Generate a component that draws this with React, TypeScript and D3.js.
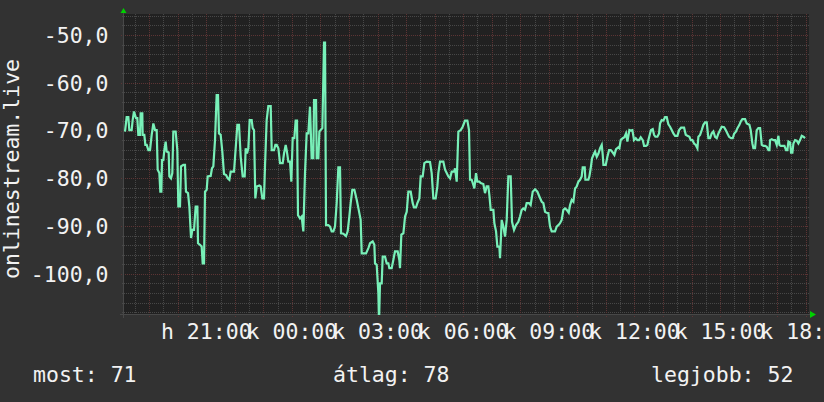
import React from 'react';
import * as d3 from 'd3';

// Signal level readings: [minutes after start (Mon 18:07), dBm]
const signal: [number, number][] = [
  [2.1,-70.2],[5.6,-67.2],[9.1,-67.2],[11.2,-69.9],[16.1,-69.9],[18.2,-67.8],[21.0,-66.0],[25.2,-67.4],[28.0,-67.4],[30.1,-70.9],
  [33.6,-70.9],[35.0,-66.4],[38.5,-66.4],[39.2,-70.9],[42.7,-70.9],[44.9,-73.0],[47.7,-73.0],[51.2,-74.1],[54.7,-74.1],[58.2,-70.9],
  [61.7,-68.5],[65.2,-69.9],[68.7,-69.9],[70.8,-78.2],[74.3,-78.9],[76.4,-82.8],[78.5,-82.8],[79.9,-76.2],[82.7,-76.2],[84.8,-74.1],
  [87.6,-72.3],[89.7,-74.4],[93.9,-74.6],[95.3,-79.6],[98.8,-80.0],[101.6,-78.9],[103.7,-70.2],[108.6,-70.2],[112.1,-74.1],[114.2,-85.9],
  [117.7,-85.9],[119.8,-77.5],[124.7,-77.2],[128.2,-77.2],[130.3,-82.8],[134.6,-83.1],[137.4,-85.9],[140.9,-92.5],[143.7,-90.8],[147.2,-90.8],
  [150.7,-85.9],[154.2,-85.9],[155.6,-93.6],[159.8,-93.9],[163.3,-94.3],[165.4,-97.8],[168.2,-97.8],[170.3,-82.8],[173.8,-82.4],[175.9,-79.6],
  [182.2,-79.5],[185.0,-77.9],[187.8,-77.5],[191.3,-72.0],[194.8,-62.6],[197.6,-62.6],[199.7,-70.6],[203.2,-70.9],[206.7,-74.4],[210.2,-79.1],
  [214.5,-79.3],[218.0,-80.0],[221.5,-80.3],[224.3,-78.6],[231.3,-78.6],[235.5,-72.7],[238.3,-68.8],[241.8,-68.8],[245.3,-75.5],[249.5,-79.6],
  [253.7,-79.6],[255.8,-73.7],[258.6,-74.8],[261.4,-73.7],[264.2,-67.8],[268.4,-67.8],[270.5,-69.5],[273.3,-69.9],[276.1,-84.2],[279.0,-81.7],
  [284.5,-81.5],[287.3,-81.7],[290.8,-84.2],[294.3,-84.2],[296.4,-77.5],[299.9,-67.8],[303.4,-64.9],[308.4,-64.9],[310.5,-74.1],[315.4,-74.1],
  [318.2,-73.0],[321.0,-73.0],[324.5,-73.7],[328.0,-76.8],[333.6,-76.8],[336.4,-74.8],[339.9,-73.0],[342.0,-74.1],[345.5,-76.5],[349.0,-76.5],
  [351.8,-80.7],[354.6,-71.6],[358.1,-71.6],[360.9,-67.9],[363.7,-67.9],[365.8,-87.7],[370.0,-88.4],[373.5,-88.0],[377.0,-91.1],[380.5,-78.9],
  [384.0,-70.6],[387.5,-70.6],[391.0,-65.0],[394.5,-75.8],[398.0,-75.8],[399.5,-63.6],[403.7,-63.6],[405.1,-75.8],[408.6,-75.8],[410.7,-70.2],
  [413.5,-69.9],[417.0,-69.5],[420.5,-51.6],[422.6,-51.6],[424.7,-89.8],[429.6,-89.8],[433.1,-90.1],[436.6,-91.1],[440.1,-91.1],[443.6,-90.1],
  [447.1,-85.2],[450.6,-77.7],[454.1,-77.7],[456.2,-91.5],[461.1,-91.6],[466.7,-92.1],[470.2,-91.1],[473.7,-88.0],[476.5,-85.2],[480.0,-82.4],
  [484.3,-82.4],[489.2,-84.5],[493.4,-86.6],[497.5,-88.7],[499.7,-95.7],[504.6,-95.7],[508.8,-95.7],[513.7,-94.6],[517.2,-93.6],[522.8,-93.2],
  [526.3,-93.9],[527.7,-97.8],[531.2,-98.1],[534.7,-104.0],[536.1,-110.0],[538.2,-102.0],[541.7,-102.0],[543.8,-96.4],[548.7,-96.4],[552.2,-97.8],
  [555.7,-97.8],[557.8,-98.8],[562.7,-98.8],[566.2,-97.1],[569.7,-95.3],[575.3,-95.3],[578.8,-97.1],[580.2,-98.8],[583.0,-91.8],[587.3,-91.5],
  [590.8,-88.0],[594.3,-87.0],[597.8,-82.8],[602.7,-82.8],[606.9,-85.2],[609.7,-86.1],[613.9,-86.1],[616.7,-85.2],[620.9,-84.2],[623.7,-79.6],
  [627.9,-79.6],[631.4,-76.8],[636.3,-76.5],[643.3,-76.6],[646.8,-78.9],[650.3,-84.2],[655.2,-84.2],[658.7,-81.7],[660.8,-78.9],[664.3,-76.5],
  [671.3,-76.5],[674.9,-78.2],[678.4,-78.9],[681.9,-79.6],[685.4,-80.0],[688.9,-78.6],[693.8,-78.6],[695.9,-77.9],[699.4,-80.7],[702.9,-70.2],
  [707.8,-69.9],[712.0,-69.2],[716.9,-67.9],[721.8,-67.9],[725.3,-69.9],[727.4,-80.3],[730.9,-80.3],[734.4,-81.4],[736.5,-82.1],[740.0,-78.9],
  [742.8,-80.7],[747.0,-80.7],[749.8,-81.0],[755.4,-81.2],[758.9,-83.1],[762.4,-81.7],[765.9,-81.7],[768.1,-83.5],[770.9,-86.6],[776.5,-86.6],
  [778.6,-89.4],[782.1,-91.1],[784.9,-94.3],[789.1,-94.3],[790.5,-96.7],[794.0,-88.7],[797.5,-90.1],[801.0,-92.2],[804.5,-88.7],[808.0,-79.6],
  [812.9,-79.6],[815.7,-89.1],[819.9,-90.8],[824.1,-89.8],[829.0,-89.1],[832.5,-88.0],[836.0,-86.6],[839.5,-86.3],[843.0,-86.6],[846.5,-85.2],
  [851.4,-85.2],[854.9,-85.6],[859.2,-82.8],[864.1,-82.3],[869.0,-82.8],[873.2,-83.8],[878.1,-84.9],[881.6,-85.2],[885.1,-87.0],[888.6,-87.2],
  [892.1,-87.3],[895.6,-90.1],[899.1,-91.1],[906.1,-91.1],[909.6,-90.1],[913.1,-89.8],[916.6,-89.4],[920.1,-88.7],[923.6,-86.6],[927.1,-86.3],
  [930.6,-86.6],[934.9,-87.2],[937.7,-85.6],[941.2,-84.5],[944.7,-84.9],[948.2,-82.1],[951.7,-81.7],[955.2,-80.7],[958.7,-80.3],[962.2,-79.6],
  [964.3,-77.7],[968.5,-77.7],[969.9,-80.3],[976.2,-80.3],[978.3,-79.6],[981.1,-77.9],[983.9,-75.8],[988.2,-74.8],[990.3,-74.4],[993.8,-75.5],
  [997.3,-74.8],[1000.8,-73.7],[1004.3,-73.0],[1006.4,-75.1],[1007.8,-77.2],[1012.7,-77.2],[1016.2,-75.5],[1019.7,-74.1],[1023.2,-74.1],[1027.4,-74.6],
  [1030.9,-75.1],[1034.4,-73.9],[1039.3,-73.5],[1041.4,-73.7],[1044.2,-72.0],[1048.4,-71.6],[1051.9,-71.4],[1055.4,-70.6],[1058.2,-72.3],[1062.4,-69.9],
  [1065.2,-70.0],[1068.7,-69.9],[1072.2,-72.0],[1075.8,-71.6],[1079.3,-72.0],[1082.8,-72.0],[1086.3,-71.4],[1090.5,-72.0],[1093.3,-73.2],[1097.5,-73.2],
  [1100.3,-73.0],[1102.4,-72.0],[1105.9,-70.6],[1108.0,-69.9],[1111.5,-69.7],[1114.3,-70.9],[1117.1,-71.3],[1121.3,-71.3],[1124.8,-70.6],[1126.9,-68.5],
  [1130.4,-67.8],[1133.9,-67.9],[1137.4,-67.2],[1140.9,-67.2],[1144.4,-68.7],[1147.9,-69.2],[1151.4,-69.9],[1154.9,-70.6],[1158.5,-71.1],[1163.4,-71.1],
  [1166.9,-69.9],[1171.1,-69.4],[1177.4,-69.4],[1180.9,-70.9],[1184.4,-71.1],[1188.6,-71.3],[1191.4,-72.0],[1194.9,-72.0],[1198.4,-72.7],[1201.9,-73.0],
  [1205.4,-73.7],[1207.5,-71.3],[1211.0,-70.9],[1214.5,-69.9],[1218.0,-68.8],[1221.5,-68.3],[1225.0,-68.3],[1228.5,-71.6],[1232.0,-71.6],[1235.5,-70.6],
  [1239.0,-70.2],[1242.5,-71.3],[1246.1,-71.6],[1249.6,-70.6],[1253.1,-69.9],[1256.6,-69.2],[1261.5,-69.3],[1265.0,-69.9],[1268.5,-70.6],[1272.0,-71.3],
  [1276.2,-71.6],[1279.7,-71.6],[1282.5,-70.7],[1286.7,-70.2],[1289.5,-69.5],[1293.7,-68.8],[1296.5,-68.1],[1300.0,-67.6],[1305.6,-67.6],[1309.1,-68.5],
  [1314.7,-68.8],[1317.5,-69.9],[1321.0,-72.7],[1323.1,-73.7],[1326.6,-73.7],[1330.1,-69.9],[1333.6,-69.5],[1337.2,-69.5],[1340.7,-73.0],[1344.2,-73.2],
  [1347.7,-73.2],[1351.2,-73.4],[1354.7,-74.1],[1356.8,-74.1],[1358.2,-72.0],[1361.7,-71.8],[1365.2,-72.0],[1368.7,-72.0],[1372.2,-73.0],[1375.7,-71.1],
  [1377.8,-73.0],[1380.6,-73.2],[1384.8,-73.2],[1388.3,-73.2],[1391.8,-74.1],[1394.6,-74.1],[1396.7,-72.3],[1400.2,-72.5],[1402.3,-74.6],[1405.1,-74.6],
  [1407.2,-72.7],[1410.7,-72.0],[1414.2,-72.1],[1417.7,-72.7],[1421.2,-72.0],[1424.7,-71.1],[1428.2,-71.3],[1431.7,-71.6],
];

const yTickValues = [-100, -90, -80, -70, -60, -50];
const yDomain: [number, number] = [-108.4, -45.6];
const huDays = ['v', 'h', 'k', 'sze', 'cs', 'p', 'szo'];
const yAxisTitle = 'onlinestream.live';
const legendItems = ['most: 71', 'átlag: 78', 'legjobb: 52'];
const legendX = [33, 333, 651];

const W = 824;
const H = 402;
const M = { left: 124, right: 809, top: 14, bottom: 314 };
const FONT = '"DejaVu Sans Mono", monospace';
const FS = 21.5;

export default function App() {
  const start = new Date(2024, 0, 1, 18, 7);
  const end = new Date(start.getTime() + 24 * 3600 * 1000);
  const x = d3.scaleTime().domain([start, end]).range([M.left, M.right]);
  const y = d3.scaleLinear().domain(yDomain).range([M.bottom, M.top]);

  const halfHours = d3.timeMinute.every(30)!.range(start, end).filter((t) => t.getMinutes() !== 0);
  const hours = d3.timeHour.range(start, end);
  const labelTimes = d3.timeHour.every(3)!.range(start, new Date(end.getTime() + 1));
  const fmt = d3.timeFormat('%H:%M');

  const minorY = d3.range(-108, -45, 2).filter((v) => v % 10 !== 0);

  const line = d3
    .line<[number, number]>()
    .x((d) => x(new Date(start.getTime() + d[0] * 60000)))
    .y((d) => y(d[1]))
    .curve(d3.curveLinear);

  const gridMinor = '#474747';
  const gridMajor = '#5c3434';

  return (
    <svg
      width={W}
      height={H}
      style={{ position: 'absolute', left: 0, top: 0, display: 'block' }}
      fontFamily={FONT}
    >
      <defs>
        <clipPath id="plotClip">
          <rect x={M.left} y={M.top} width={M.right - M.left} height={M.bottom - M.top + 1} />
        </clipPath>
      </defs>
      <rect x={0} y={0} width={W} height={H} fill="#323232" />
      <rect x={M.left} y={M.top} width={M.right - M.left} height={M.bottom - M.top} fill="#212121" />

      {/* minor vertical grid */}
      {halfHours.map((t, i) => (
        <line key={'vm' + i} x1={Math.round(x(t)) + 0.5} x2={Math.round(x(t)) + 0.5} y1={M.top} y2={M.bottom + 2}
          stroke={gridMinor} strokeDasharray="1,1" />
      ))}
      {/* minor horizontal grid */}
      {minorY.map((v) => (
        <line key={'hm' + v} x1={M.left - 2} x2={M.right} y1={Math.round(y(v)) + 0.5} y2={Math.round(y(v)) + 0.5}
          stroke={gridMinor} strokeDasharray="1,1" />
      ))}
      {/* major vertical grid */}
      {hours.map((t, i) => (
        <line key={'vM' + i} x1={Math.round(x(t)) + 0.5} x2={Math.round(x(t)) + 0.5} y1={M.top} y2={M.bottom + 3}
          stroke={gridMajor} strokeDasharray="1,1" />
      ))}
      {/* major horizontal grid */}
      {yTickValues.map((v) => (
        <line key={'hM' + v} x1={M.left - 3} x2={M.right} y1={Math.round(y(v)) + 0.5} y2={Math.round(y(v)) + 0.5}
          stroke={gridMajor} strokeDasharray="1,1" />
      ))}

      {/* axes */}
      <line x1={M.left - 4} x2={M.right + 1} y1={M.bottom + 0.5} y2={M.bottom + 0.5} stroke="#484848" />
      <line x1={M.left - 0.5} x2={M.left - 0.5} y1={M.top - 2} y2={M.bottom + 4} stroke="#484848" />
      <path d={`M${M.left - 3.5},${M.top - 1}L${M.left + 2.5},${M.top - 1}L${M.left - 0.5},${M.top - 6}Z`} fill="#00d000" />
      <path d={`M${M.right + 1},${M.bottom - 3}L${M.right + 1},${M.bottom + 4}L${M.right + 7},${M.bottom + 0.5}Z`} fill="#00d000" />

      {/* data line */}
      <g clipPath="url(#plotClip)">
        <path d={line(signal) || ''} fill="none" stroke="#78f0b8" strokeWidth={2.2} strokeLinejoin="miter" />
      </g>

      {/* y tick labels */}
      {yTickValues.map((v) => (
        <text key={'yl' + v} x={108.5} y={y(v) + 7.8} textAnchor="end" fontSize={FS} fill="#f2f2f2">
          {d3.format('.1f')(v).replace('.', ',').replace('−', '-')}
        </text>
      ))}

      {/* x tick labels */}
      {labelTimes.map((t, i) => (
        <text key={'xl' + i} x={x(t)} y={339} textAnchor="middle" fontSize={FS} fill="#f2f2f2">
          {huDays[t.getDay()] + ' ' + fmt(t)}
        </text>
      ))}

      {/* y axis title */}
      <text transform={`translate(18.5, ${(M.top + M.bottom) / 2 + 5}) rotate(-90)`} textAnchor="middle" fontSize={FS} fill="#f2f2f2">
        {yAxisTitle}
      </text>

      {/* legend */}
      {legendItems.map((s, i) => (
        <text key={'lg' + i} x={legendX[i]} y={382} fontSize={FS} fill="#f2f2f2">
          {s}
        </text>
      ))}
    </svg>
  );
}
